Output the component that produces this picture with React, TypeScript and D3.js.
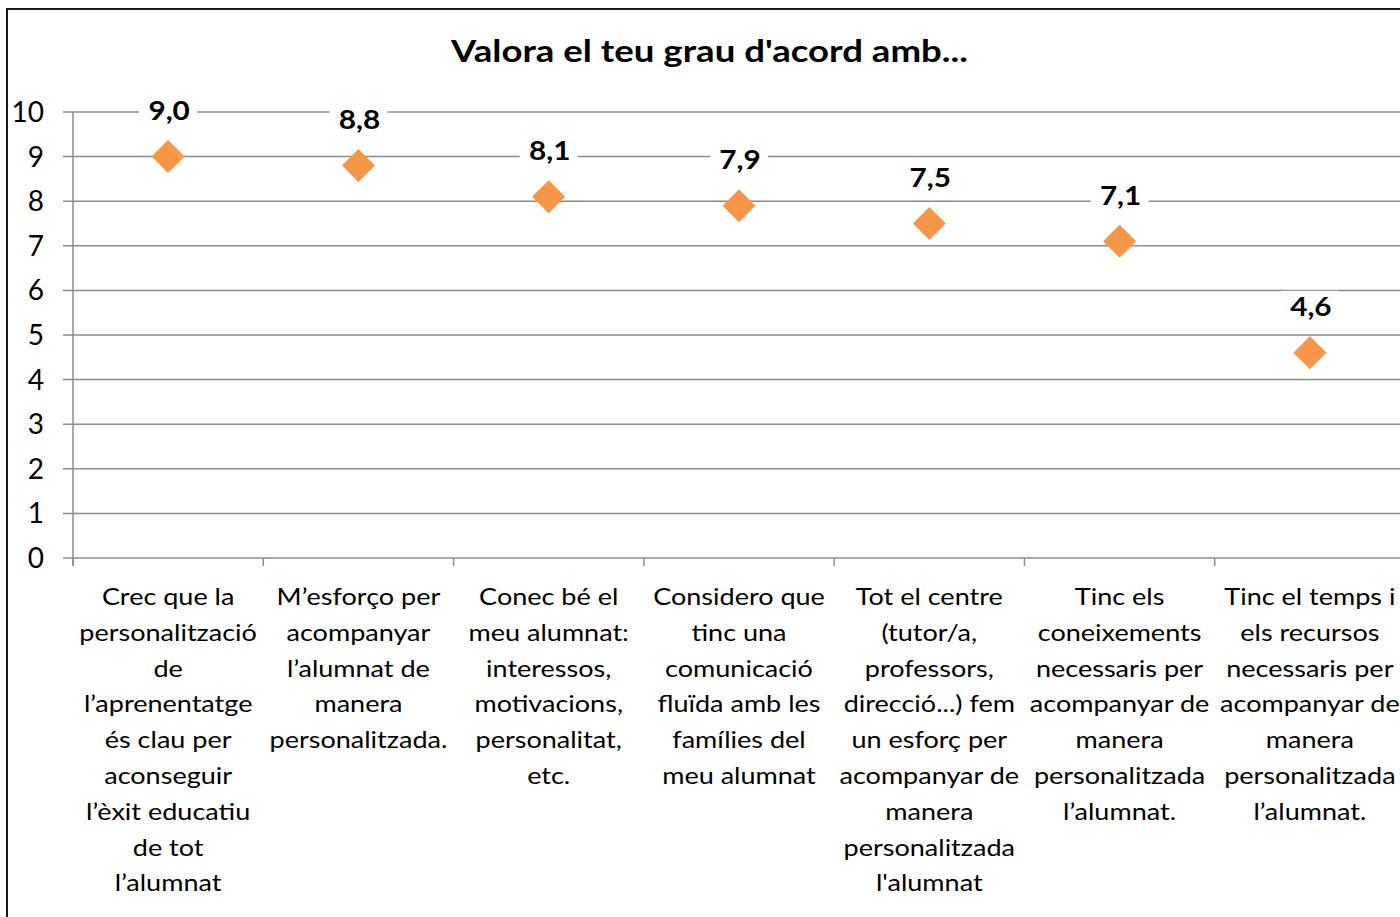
import { useEffect, useRef } from 'react';
import * as d3 from 'd3';

const title = "Valora el teu grau d'acord amb...";

const categories = [
  ['Crec que la', 'personalització', 'de', 'l’aprenentatge', 'és clau per', 'aconseguir', 'l’èxit educatiu', 'de tot', 'l’alumnat'],
  ['M’esforço per', 'acompanyar', 'l’alumnat de', 'manera', 'personalitzada.'],
  ['Conec bé el', 'meu alumnat:', 'interessos,', 'motivacions,', 'personalitat,', 'etc.'],
  ['Considero que', 'tinc una', 'comunicació', 'fluïda amb les', 'famílies del', 'meu alumnat'],
  ['Tot el centre', '(tutor/a,', 'professors,', 'direcció...) fem', 'un esforç per', 'acompanyar de', 'manera', 'personalitzada', "l'alumnat"],
  ['Tinc els', 'coneixements', 'necessaris per', 'acompanyar de', 'manera', 'personalitzada', 'l’alumnat.'],
  ['Tinc el temps i', 'els recursos', 'necessaris per', 'acompanyar de', 'manera', 'personalitzada', 'l’alumnat.'],
];

const values = [9.0, 8.8, 8.1, 7.9, 7.5, 7.1, 4.6];

const yTicks = [0, 1, 2, 3, 4, 5, 6, 7, 8, 9, 10];

const FONT = 'Lato, Carlito, Calibri, sans-serif';

export default function App() {
  const svgRef = useRef<SVGSVGElement>(null);
  const width = 1400;
  const height = 917;

  useEffect(() => {
    const svg = d3.select(svgRef.current);
    svg.selectAll('*').remove();

    const left = 73;
    const top = 112;
    const bottom = 558;
    const right = 1405;

    // chart area border
    svg.append('rect')
      .attr('x', 7).attr('y', 9)
      .attr('width', 1500).attr('height', 1000)
      .attr('fill', '#fff')
      .attr('stroke', '#1a1a1a')
      .attr('stroke-width', 2);

    // title (Calibri look: a bit wider than Lato)
    svg.append('text')
      .attr('transform', 'translate(709.5,62) scale(1.22,1)')
      .attr('text-anchor', 'middle')
      .style('font-family', FONT)
      .style('font-weight', 'bold')
      .style('font-size', '30px')
      .text(title);

    const x = d3.scaleBand<number>()
      .domain(d3.range(categories.length))
      .range([left, right])
      .paddingInner(0).paddingOuter(0);

    const y = d3.scaleLinear().domain([0, 10]).range([bottom, top]);

    // gridlines
    svg.append('g')
      .selectAll('line')
      .data(yTicks)
      .join('line')
      .attr('x1', left - 10).attr('x2', right)
      .attr('y1', d => y(d)).attr('y2', d => y(d))
      .attr('stroke', '#8c8c8c')
      .attr('stroke-width', 1.5);

    // y axis
    svg.append('line')
      .attr('x1', left).attr('x2', left)
      .attr('y1', top).attr('y2', bottom + 8)
      .attr('stroke', '#8c8c8c').attr('stroke-width', 1.5);

    svg.append('g')
      .selectAll('text')
      .data(yTicks)
      .join('text')
      .attr('x', 44)
      .attr('y', d => y(d) + 10)
      .attr('text-anchor', 'end')
      .style('font-family', FONT)
      .style('font-size', '28px')
      .text(d => d);

    // category ticks
    svg.append('g')
      .selectAll('line')
      .data(d3.range(categories.length + 1))
      .join('line')
      .attr('x1', d => left + d * x.bandwidth())
      .attr('x2', d => left + d * x.bandwidth())
      .attr('y1', bottom).attr('y2', bottom + 8)
      .attr('stroke', '#8c8c8c').attr('stroke-width', 1.5);

    // category labels
    const cat = svg.append('g')
      .selectAll('text')
      .data(categories)
      .join('text')
      .attr('transform', (_, i) => `translate(${x(i)! + x.bandwidth() / 2},605) scale(1.15,1)`)
      .attr('text-anchor', 'middle')
      .style('font-family', FONT)
      .style('font-size', '23.5px');
    cat.selectAll('tspan')
      .data(d => d)
      .join('tspan')
      .attr('x', 0)
      .attr('dy', (_, j) => (j === 0 ? 0 : 35.8))
      .text(d => d);

    // data labels with white boxes
    const fmt = (v: number) => v.toFixed(1).replace('.', ',');
    const lab = svg.append('g')
      .selectAll('g')
      .data(values)
      .join('g')
      .attr('transform', (d, i) => `translate(${x(i)! + x.bandwidth() / 2},${y(d)})`);
    lab.append('rect')
      .attr('x', -29).attr('y', -62)
      .attr('width', 58).attr('height', 34)
      .attr('fill', '#fff');
    lab.append('text')
      .attr('transform', 'translate(1,-36.5) scale(1.08,1)')
      .attr('text-anchor', 'middle')
      .style('font-family', FONT)
      .style('font-weight', 'bold')
      .style('font-size', '27.5px')
      .text(d => fmt(d));

    // markers
    svg.append('g')
      .selectAll('path')
      .data(values)
      .join('path')
      .attr('transform', (d, i) => `translate(${x(i)! + x.bandwidth() / 2},${y(d)})`)
      .attr('d', 'M0,-16.5L16.5,0L0,16.5L-16.5,0Z')
      .attr('fill', '#F79646');
  }, []);

  return (
    <svg
      ref={svgRef}
      width={width}
      height={height}
      style={{ position: 'absolute', left: 0, top: 0, background: '#fff' }}
    />
  );
}
